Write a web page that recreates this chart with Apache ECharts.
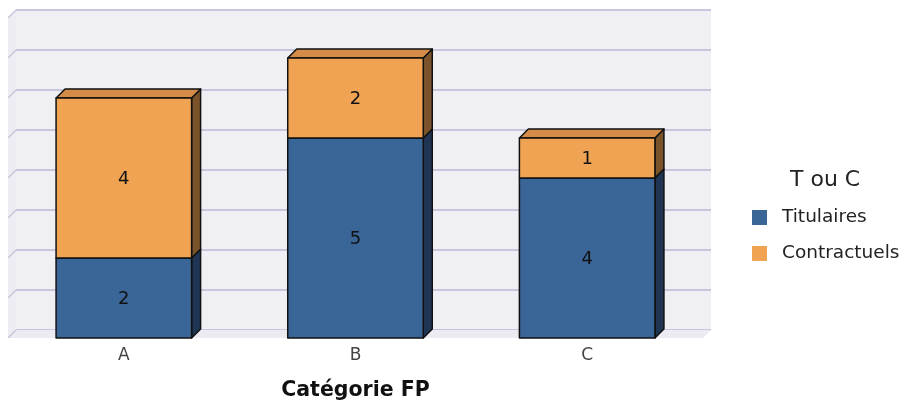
<!DOCTYPE html>
<html><head><meta charset="utf-8">
<script src="https://cdn.jsdelivr.net/npm/echarts@6/dist/echarts.min.js"></script>
<style>html,body{margin:0;padding:0;background:#fff}#c{width:907px;height:407px}</style>
</head><body><div id="c"></div>
<script>
const categories = ['A', 'B', 'C'];
const titulaires = [2, 5, 4];
const contractuels = [4, 2, 1];
const seriesNames = ['Titulaires', 'Contractuels'];
const legendTitle = 'T ou C';
const axisTitle = 'Catégorie FP';
const yTicks = [0, 1, 2, 3, 4, 5, 6, 7, 8];

const FONT = '"DejaVu Sans", sans-serif';
const D = 9;   // bar depth
const WD = 8;  // wall depth

const chart = echarts.init(document.getElementById('c'), null, {renderer: 'canvas'});

const zeros = categories.map(() => 0);
const blueData = titulaires.map((v, i) => [i, zeros[i], zeros[i] + v, v, contractuels[i] > 0 ? 0 : 1]);
const orangeData = contractuels.map((v, i) => [i, titulaires[i], titulaires[i] + v, v, 1]);

function makeRender(front, side, top) {
  return function (params, api) {
    const i = api.value(0), b = api.value(1), t = api.value(2), v = api.value(3), isTop = api.value(4);
    if (v <= 0) return;
    const p0 = api.coord([i, b]), p1 = api.coord([i, t]);
    const w = api.size([1, 0])[0] * 0.585;
    const x = p0[0] - w / 2, y0 = p0[1], y1 = p1[1];
    const st = {stroke: '#111', lineWidth: 1.5, lineJoin: 'round'};
    const children = [
      {type: 'polygon', shape: {points: [[x + w, y1], [x + w + D, y1 - D], [x + w + D, y0 - D], [x + w, y0]]},
        style: Object.assign({fill: side}, st)}
    ];
    if (isTop) {
      children.push({type: 'polygon', shape: {points: [[x, y1], [x + D, y1 - D], [x + w + D, y1 - D], [x + w, y1]]},
        style: Object.assign({fill: top}, st)});
    }
    children.push({type: 'rect', shape: {x: x, y: y1, width: w, height: y0 - y1},
      style: Object.assign({fill: front}, st)});
    children.push({type: 'text', style: {text: String(v), x: x + w / 2, y: (y0 + y1) / 2 + 1,
      align: 'center', verticalAlign: 'middle', textAlign: 'center', textVerticalAlign: 'middle',
      fill: '#111', fontSize: 18, fontFamily: FONT}});
    return {type: 'group', children: children};
  };
}

function renderWalls(params, api) {
  const cs = params.coordSys;
  const yb = api.coord([0, yTicks[0]])[1];
  const xl = cs.x, xr = cs.x + cs.width, yt = cs.y;
  const children = [
    {type: 'polygon', shape: {points: [[xl, yb], [xr, yb], [xr + WD, yb - WD], [xl + WD, yb - WD]]},
      style: {fill: '#ebebf1'}},
    {type: 'polygon', shape: {points: [[xl, yt], [xl + WD, yt - WD], [xl + WD, yb - WD], [xl, yb]]},
      style: {fill: '#ececf2'}}
  ];
  yTicks.forEach(function (v) {
    const y = api.coord([0, v])[1];
    children.push({type: 'line', shape: {x1: xl, y1: y, x2: xl + WD, y2: y - WD},
      style: {stroke: '#c6c6dc', lineWidth: 1.5}});
  });
  return {type: 'group', children: children};
}

const option = {
  animation: false,
  backgroundColor: '#ffffff',
  textStyle: {fontFamily: FONT},
  title: {
    text: legendTitle, left: 790, top: 169, padding: 0,
    textStyle: {fontSize: 22, fontWeight: 'normal', color: '#222', fontFamily: FONT}
  },
  legend: {
    data: seriesNames, orient: 'vertical', left: 752, top: 208, padding: 0,
    itemWidth: 15, itemHeight: 15, itemGap: 17, icon: 'rect',
    textStyle: {fontSize: 18.5, color: '#222', fontFamily: FONT, padding: [0, 0, 0, 10]},
    itemStyle: {borderWidth: 0}
  },
  grid: [
    {left: 8, right: 204, top: 18, bottom: 69, containLabel: false},
    {left: 16, right: 196, top: 10, bottom: 77, show: true, backgroundColor: '#efeff4', borderWidth: 0, containLabel: false}
  ],
  xAxis: [
    {type: 'category', gridIndex: 0, data: categories,
      axisLine: {show: false}, axisTick: {show: false},
      axisLabel: {color: '#444', fontSize: 17, margin: 9, fontFamily: FONT},
      splitLine: {show: false},
      name: axisTitle, nameLocation: 'middle', nameGap: 42,
      nameTextStyle: {fontSize: 20.5, fontWeight: 'bold', color: '#111', fontFamily: FONT}},
    {type: 'category', gridIndex: 1, data: categories, show: false}
  ],
  yAxis: [
    {type: 'value', gridIndex: 0, min: yTicks[0], max: yTicks[yTicks.length - 1], interval: 1, show: false,
      splitLine: {show: false}},
    {type: 'value', gridIndex: 1, min: yTicks[0], max: yTicks[yTicks.length - 1], interval: 1,
      axisLabel: {show: false}, axisLine: {show: false}, axisTick: {show: false},
      splitLine: {show: true, lineStyle: {color: '#c6c6dc', width: 2}}}
  ],
  series: [
    {type: 'custom', name: 'walls', xAxisIndex: 0, yAxisIndex: 0, z: 1, silent: true,
      data: [[0]], renderItem: renderWalls},
    {type: 'custom', name: seriesNames[0], xAxisIndex: 0, yAxisIndex: 0, z: 3,
      itemStyle: {color: '#3a6597'}, data: blueData,
      renderItem: makeRender('#3a6597', '#1f3553', '#2e5180')},
    {type: 'custom', name: seriesNames[1], xAxisIndex: 0, yAxisIndex: 0, z: 4,
      itemStyle: {color: '#efa353'}, data: orangeData,
      renderItem: makeRender('#efa353', '#7b532b', '#d48c48')}
  ]
};
chart.setOption(option);
</script>
</body></html>
